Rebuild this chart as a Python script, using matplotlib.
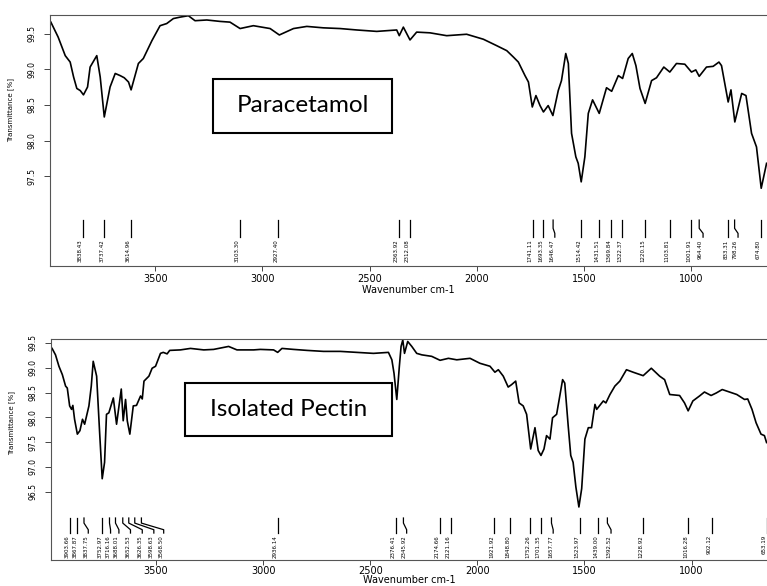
import numpy as np
import matplotlib.pyplot as plt
from matplotlib.patches import Rectangle

# Paracetamol spectrum (wavenumber cm-1, transmittance %)
para_wn = [3986, 3952, 3919, 3896, 3880, 3865, 3849, 3834, 3815, 3803,
           3772, 3756, 3737, 3710, 3686, 3663, 3644, 3624, 3612, 3578,
           3555, 3515, 3477, 3446, 3415, 3384, 3345, 3314, 3259, 3197,
           3151, 3104, 3042, 2964, 2921, 2855, 2793, 2716, 2638, 2560,
           2467, 2374, 2362, 2343, 2312, 2281, 2219, 2141, 2048, 1970,
           1908, 1861, 1830, 1807, 1776, 1760, 1742, 1725, 1706, 1690,
           1668, 1646, 1621, 1606, 1586, 1574, 1559, 1539, 1528, 1514,
           1497, 1481, 1461, 1430, 1396, 1372, 1341, 1321, 1295, 1276,
           1259, 1240, 1216, 1186, 1163, 1129, 1101, 1070, 1031, 1000,
           980, 964, 930, 899, 872, 860, 829, 816, 798, 766,
           746, 720, 697, 675, 650]
para_T = [99.66, 99.45, 99.19, 99.10, 98.89, 98.73, 98.70, 98.64, 98.75, 99.03,
          99.19, 98.89, 98.33, 98.75, 98.94, 98.91, 98.88, 98.82, 98.71, 99.08,
          99.15, 99.40, 99.61, 99.64, 99.71, 99.73, 99.75, 99.68, 99.69, 99.67,
          99.66, 99.57, 99.61, 99.57, 99.48, 99.57, 99.60, 99.58, 99.57, 99.55,
          99.53, 99.55, 99.47, 99.59, 99.41, 99.52, 99.51, 99.47, 99.49, 99.42,
          99.33, 99.26, 99.17, 99.10, 98.91, 98.82, 98.47, 98.63, 98.49, 98.40,
          98.49, 98.35, 98.70, 98.84, 99.22, 99.08, 98.10, 97.77, 97.68, 97.42,
          97.77, 98.38, 98.57, 98.38, 98.74, 98.69, 98.91, 98.87, 99.15, 99.22,
          99.05, 98.73, 98.52, 98.84, 98.88, 99.03, 98.96, 99.08, 99.07, 98.96,
          98.99, 98.90, 99.03, 99.04, 99.10, 99.05, 98.54, 98.71, 98.26, 98.66,
          98.63, 98.10, 97.91, 97.33, 97.68]

# Paracetamol peak picks: marker position, label position, label text
para_peaks = [3838, 3737, 3614, 3104, 2926, 2363, 2312, 1741, 1692, 1645, 1514,
              1430, 1373, 1322, 1217, 1101, 1001, 964, 829, 799, 676]
para_label_x = [3838, 3737, 3614, 3104, 2926, 2363, 2312, 1741, 1692, 1637, 1514,
                1430, 1373, 1322, 1217, 1101, 1001, 946, 829, 783, 676]
para_labels = ['3838.43', '3737.42', '3614.96', '3103.30', '2927.40', '2363.92',
               '2312.08', '1741.11', '1693.35', '1646.47', '1514.42', '1431.51',
               '1369.84', '1322.37', '1220.15', '1103.81', '1001.91', '964.40',
               '833.31', '798.26', '674.80']

# Isolated pectin spectrum
pect_wn = [3985, 3969, 3953, 3937, 3922, 3914, 3903, 3894, 3888, 3880,
           3867, 3855, 3843, 3833, 3824, 3813, 3802, 3793, 3777, 3763,
           3751, 3740, 3731, 3720, 3699, 3684, 3662, 3653, 3642, 3634,
           3622, 3606, 3591, 3572, 3564, 3556, 3533, 3518, 3502, 3479,
           3466, 3448, 3436, 3386, 3339, 3277, 3231, 3161, 3122, 3044,
           3013, 2951, 2932, 2912, 2858, 2795, 2718, 2640, 2562, 2485,
           2415, 2399, 2389, 2376, 2364, 2356, 2348, 2340, 2325, 2306,
           2283, 2259, 2213, 2174, 2135, 2096, 2034, 1988, 1941, 1918,
           1902, 1879, 1856, 1840, 1821, 1805, 1786, 1770, 1751, 1731,
           1716, 1703, 1689, 1677, 1661, 1649, 1630, 1618, 1602, 1592,
           1576, 1564, 1553, 1540, 1526, 1513, 1498, 1482, 1467, 1451,
           1443, 1412, 1400, 1381, 1358, 1335, 1304, 1273, 1226, 1188,
           1149, 1126, 1102, 1056, 1033, 1016, 994, 963, 940, 909,
           885, 857, 823, 789, 753, 738, 718, 699, 676, 660,
           650]
pect_T = [99.39, 99.26, 99.03, 98.86, 98.63, 98.59, 98.23, 98.16, 98.24, 97.96,
          97.66, 97.73, 97.96, 97.86, 98.03, 98.23, 98.63, 99.13, 98.83, 97.69,
          96.76, 97.09, 98.06, 98.09, 98.39, 97.86, 98.57, 97.93, 98.36, 97.93,
          97.66, 98.23, 98.24, 98.43, 98.37, 98.73, 98.83, 98.99, 99.03, 99.29,
          99.31, 99.28, 99.35, 99.36, 99.39, 99.36, 99.37, 99.43, 99.36, 99.36,
          99.37, 99.36, 99.31, 99.39, 99.37, 99.35, 99.33, 99.33, 99.31, 99.29,
          99.31, 99.16, 98.89, 98.36, 99.03, 99.43, 99.56, 99.29, 99.53, 99.43,
          99.29, 99.26, 99.23, 99.15, 99.19, 99.16, 99.19, 99.09, 99.03, 98.91,
          98.96, 98.83, 98.61, 98.66, 98.73, 98.29, 98.23, 98.06, 97.36, 97.79,
          97.33, 97.23, 97.36, 97.63, 97.56, 97.99, 98.06, 98.36, 98.76, 98.69,
          97.83, 97.23, 97.09, 96.59, 96.19, 96.56, 97.56, 97.79, 97.79, 98.26,
          98.16, 98.33, 98.29, 98.46, 98.63, 98.73, 98.96, 98.91, 98.84, 98.99,
          98.83, 98.76, 98.46, 98.44, 98.29, 98.13, 98.33, 98.43, 98.51, 98.44,
          98.49, 98.56, 98.51, 98.46, 98.36, 98.37, 98.16, 97.89, 97.66, 97.63,
          97.49]

pect_peaks = [3903, 3867, 3836, 3751, 3717, 3689, 3655, 3627, 3599, 3568, 2930,
              2379, 2345, 2174, 2124, 1922, 1848, 1752, 1704, 1654, 1522, 1437,
              1393, 1226, 1016, 907, 650]
pect_label_x = [3903, 3867, 3816, 3751, 3712, 3673, 3619, 3564, 3510, 3464, 2930,
                2379, 2330, 2174, 2124, 1922, 1848, 1752, 1704, 1646, 1522, 1437,
                1376, 1226, 1016, 907, 650]
pect_labels = ['3903.66', '3867.87', '3837.75', '3752.97', '3716.16', '3688.01',
               '3652.53', '3626.35', '3598.63', '3568.50', '2936.14', '2376.41',
               '2345.92', '2174.66', '2121.16', '1921.92', '1848.80', '1752.26',
               '1701.35', '1657.77', '1523.97', '1439.00', '1392.52', '1228.92',
               '1016.28', '902.12', '653.19']

W, H = 767, 586
fig = plt.figure(figsize=(W / 100, H / 100), dpi=100)

def draw_panel(rect_px, wn, T, ylim, yticks, peaks, label_x, labels, mark_y,
               tick_pad, xlab_pad):
    # rect_px: left, top, right, bottom in pixels
    l, t, r, b = rect_px
    ax = fig.add_axes([l / W, 1 - b / H, (r - l) / W, (b - t) / H])
    ax.plot(wn, T, color='black', linewidth=1.2)
    ax.set_xlim(3990, 648)
    ax.set_ylim(*ylim)
    ax.set_xticks([3500, 3000, 2500, 2000, 1500, 1000])
    ax.set_yticks(yticks)
    ax.set_yticklabels(['%.1f' % v for v in yticks], rotation=90, va='center')
    ax.tick_params(axis='y', labelsize=5.5, length=4, width=0.7, colors='#444444', pad=6)
    ax.tick_params(axis='x', labelsize=7, length=3.5, width=0.7, colors='#444444',
                   pad=tick_pad)
    for lab in ax.get_xticklabels() + ax.get_yticklabels():
        lab.set_color('black')
    for side in ['left', 'top', 'bottom']:
        ax.spines[side].set_color('#555555')
        ax.spines[side].set_linewidth(0.8)
    ax.spines['right'].set_visible(False)
    ax.set_xlabel('Wavenumber cm-1', fontsize=7, labelpad=xlab_pad)
    ax.set_ylabel('Transmittance [%]', fontsize=5, family='Liberation Sans Narrow')
    ax.yaxis.set_label_coords(-0.05, 0.62)

    # peak pick markers drawn in data-x / axes-y coordinates
    trans = ax.get_xaxis_transform()
    y_top, y_k1, y_k2, y_txt = mark_y
    for p, lx, s in zip(peaks, label_x, labels):
        ax.plot([p, p, lx, lx], [y_top, y_k1, y_k2, y_txt], color='black',
                linewidth=0.9, transform=trans, clip_on=False)
        ax.text(lx, y_txt - 0.01, s, rotation=90, ha='right', va='top',
                fontsize=4, transform=trans)
    return ax

ax1 = draw_panel((50, 15, 767, 266), para_wn, para_T, (96.24, 99.76),
                 [97.5, 98.0, 98.5, 99.0, 99.5], para_peaks, para_label_x,
                 para_labels, (0.183, 0.15, 0.13, 0.115), 2, 1)
ax2 = draw_panel((51, 339, 767, 560), pect_wn, pect_T, (95.12, 99.58),
                 [96.5, 97.0, 97.5, 98.0, 98.5, 99.0, 99.5], pect_peaks,
                 pect_label_x, pect_labels, (0.19, 0.167, 0.137, 0.122), 1, -1)

# Sample name boxes
def name_box(x0, y0, x1, y1, text):
    fig.patches.append(Rectangle((x0 / W, 1 - y1 / H), (x1 - x0) / W, (y1 - y0) / H,
                                 transform=fig.transFigure, fill=True,
                                 facecolor='white', edgecolor='black', linewidth=1.5))
    fig.text((x0 + x1) / 2 / W, 1 - (y0 + y1) / 2 / H, text, ha='center',
             va='center', fontsize=17.5, family='Lato')

name_box(213, 79, 392, 133, 'Paracetamol')
name_box(185, 383, 392, 436, 'Isolated Pectin')

fig.savefig('out.png', dpi=100)
